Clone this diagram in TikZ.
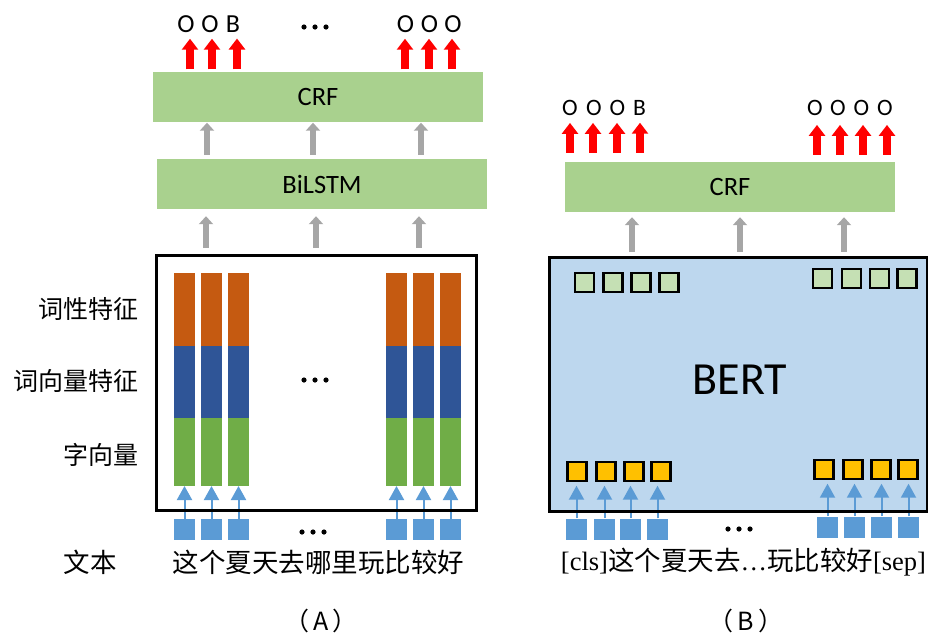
\documentclass[tikz,border=0pt]{standalone}
\usepackage{fontspec}
\setmainfont{Carlito}
\newfontfamily\cjk{Noto Sans CJK SC}
\newfontfamily\timesfont{Liberation Serif}
\usetikzlibrary{arrows.meta}
\definecolor{layergreen}{HTML}{A9D18E}
\definecolor{arrowgray}{HTML}{A6A6A6}
\definecolor{posorange}{HTML}{C55A11}
\definecolor{wordblue}{HTML}{2F5597}
\definecolor{chargreen}{HTML}{70AD47}
\definecolor{tokblue}{HTML}{5B9BD5}
\definecolor{bertblue}{HTML}{BDD7EE}
\definecolor{outgreen}{HTML}{C5E0B4}
\definecolor{embyellow}{HTML}{FFC000}
\newcommand\dotrow[2]{\foreach \d in {-11,0,11} \fill (#1+\d,#2) circle (2.6);}

\begin{document}
\begin{tikzpicture}[x=1pt,y=-1pt,
  layer/.style={fill=layergreen, minimum width=330, minimum height=50, inner sep=0, font=\fontsize{26.5}{30}\selectfont},
  tag/.style={inner sep=0, font=\fontsize{26}{30}\selectfont},
  tagB/.style={inner sep=0, font=\fontsize{23.5}{28}\selectfont},
  redarrow/.style={draw=red, line width=8, -{Triangle[width=16,length=11]}},
  grayarrow/.style={draw=arrowgray, line width=6.5, -{Triangle[width=14,length=8]}},
  bluearrow/.style={draw=tokblue, line width=2, -{Triangle[width=15,length=14]}},
  seg/.style={minimum width=21, inner sep=0, outer sep=0},
  token/.style={fill=tokblue, minimum width=21, minimum height=21, inner sep=0},
  cell/.style={draw=black, line width=2.4, minimum size=19, inner sep=0},
  cjktext/.style={inner sep=0, font=\cjk\fontsize{25}{30}\selectfont},
  caption/.style={inner sep=0, font=\cjk\fontsize{25}{30}\selectfont},
]
\useasboundingbox (0,0) rectangle (928,633);

% ---------------- (A) feature stack + BiLSTM + CRF ----------------
\node[layer] (crfA) at (318,96.5) {CRF};
\node[layer] (bilstm) at (322,184) {BiLSTM};

\foreach \i/\x in {1/184.5,2/211.5,3/238.5,4/396.5,5/423.5,6/450.5} {
  \node[seg, fill=posorange, minimum height=73] (pos\i) at (\x,309.5) {};
  \node[seg, fill=wordblue, minimum height=72] (wv\i) at (\x,382) {};
  \node[seg, fill=chargreen, minimum height=68] (cv\i) at (\x,452) {};
  \node[token] (tokA\i) at (\x,529.5) {};
  \draw[bluearrow] (tokA\i) -- (cv\i);
}
\node[draw=black, line width=3, minimum width=320, minimum height=255, inner sep=0] (boxA) at (316,382.5) {};

\foreach \i/\x in {1/206,2/316,3/419} {
  \coordinate (ga\i) at (\x,0);
  \draw[grayarrow, shorten <=5.5, shorten >=7] (boxA.north -| ga\i) -- (bilstm.south -| ga\i);
}
\foreach \i/\x in {1/207,2/313,3/421} {
  \coordinate (gb\i) at (\x,0);
  \draw[grayarrow, shorten <=4, shorten >=1] (bilstm.north -| gb\i) -- (crfA.south -| gb\i);
}

\foreach \i/\x/\t in {1/186/O,2/210/O,3/233/B,4/405.5/O,5/429.5/O,6/453/O}
  \node[tag] (tA\i) at (\x,24) {\t};
\foreach \i/\x in {1/190,2/212,3/237,4/405,5/429,6/452} {
  \coordinate (ra\i) at (\x,0);
  \draw[redarrow, shorten <=2, shorten >=6] (crfA.north -| ra\i) -- (tA\i.south -| ra\i);
}

\node[cjktext, anchor=east] (lblpos) at (139,309) {词性特征};
\node[cjktext, anchor=east] (lblword) at (139,381) {词向量特征};
\node[cjktext, anchor=east] (lblchar) at (139,455) {字向量};

\dotrow{315}{27}
\dotrow{315}{380}
\dotrow{313}{532}

\node[cjktext, font=\cjk\fontsize{26.5}{30}\selectfont] (txtlbl) at (90,562) {文本};
\node[cjktext, font=\cjk\fontsize{26.5}{30}\selectfont] (sentA) at (318.5,562) {这个夏天去哪里玩比较好};
\node[caption] (capA) at (321,621) {（\hspace{4pt}A\hspace{4pt}）};

% ---------------- (B) BERT + CRF ----------------
\node[layer] (crfB) at (730,187) {CRF};
\node[fill=bertblue, minimum width=378, minimum height=254, inner sep=0, outer sep=0] (bert) at (738.5,384) {};
\node[inner sep=0, font=\fontsize{46}{50}\selectfont] (bertlbl) at (740,380) {BERT};

\foreach \i/\x/\y in {1/584.5/282.5,2/613/282.5,3/641/282.5,4/669/282.5,5/822.5/278.5,6/851.5/278.5,7/879.5/278.5,8/907/278.5}
  \node[cell, fill=outgreen] (out\i) at (\x,\y) {};
\foreach \i/\x/\y in {1/577/471.5,2/606/471.5,3/634/471.5,4/661/471.5,5/824/469.5,6/853/469.5,7/881/469.5,8/908/469.5}
  \node[cell, fill=embyellow] (emb\i) at (\x,\y) {};

\foreach \i/\x/\y in {1/576.5/529,2/604.5/529,3/630.5/529,4/657.5/529,5/827.5/527,6/854.5/527,7/881.5/527,8/908.5/527} {
  \node[token] (tokB\i) at (\x,\y) {};
  \draw[bluearrow, shorten >=3.5] (tokB\i.north) -- (tokB\i.north |- emb\i.south);
}
\draw[line width=3] (bert.south west) rectangle (bert.north east);

\foreach \i/\x in {1/632,2/740,3/844} {
  \coordinate (gc\i) at (\x,0);
  \draw[grayarrow, shorten <=5.5, shorten >=5] (bert.north -| gc\i) -- (crfB.south -| gc\i);
}

\foreach \i/\x/\t in {1/570/O,2/594/O,3/617.5/O,4/639.5/B,5/815/O,6/838/O,7/861.5/O,8/885/O}
  \node[tagB] (tB\i) at (\x,108) {\t};
\foreach \i/\x in {1/570,2/593,3/617,4/640} {
  \coordinate (rb\i) at (\x,0);
  \draw[redarrow, shorten <=9, shorten >=7] (crfB.north -| rb\i) -- (tB\i.south -| rb\i);
}
\foreach \i/\x in {5/817,6/840,7/863,8/887} {
  \coordinate (rb\i) at (\x,0);
  \draw[redarrow, shorten <=7, shorten >=9] (crfB.north -| rb\i) -- (tB\i.south -| rb\i);
}

\dotrow{739}{529}

\node[inner sep=0, font=\cjk\fontsize{26.5}{30}\selectfont] (sentB) at (743.5,562)
  {{\timesfont [cls]}这个夏天去{\timesfont …}玩比较好{\timesfont [sep]}};
\node[caption] (capB) at (746,621) {（\hspace{4pt}B\hspace{4pt}）};
\end{tikzpicture}
\end{document}
